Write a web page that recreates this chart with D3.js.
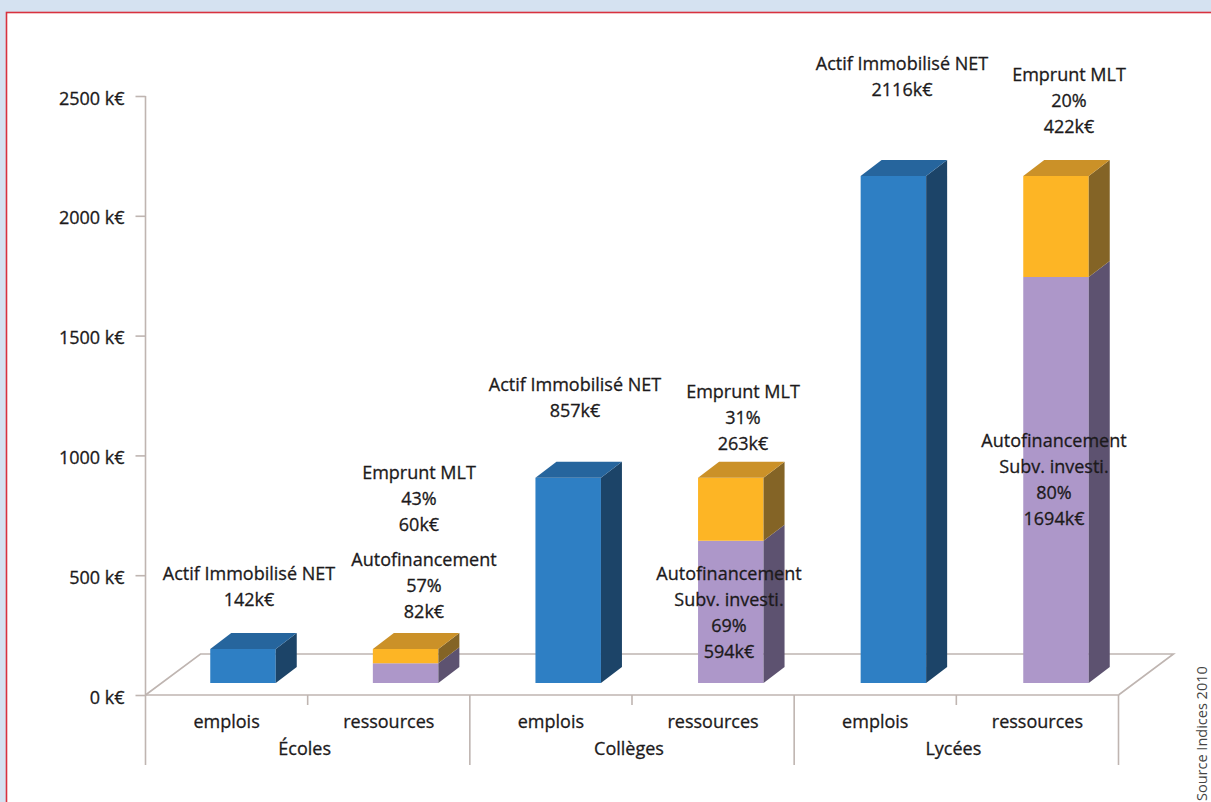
<!DOCTYPE html>
<html lang="fr">
<head>
<meta charset="utf-8">
<style>
  html, body { margin: 0; padding: 0; background: #d5e2f1; overflow: hidden; }
  svg { display: block; }
  text { font-family: "Open Sans", Lato, sans-serif; font-weight: 500; fill: #1c1a1b; stroke: #1c1a1b; stroke-width: 0.3px; }
</style>
</head>
<body>
<svg id="chart" width="1211" height="802"></svg>
<script src="https://cdn.jsdelivr.net/npm/d3@7/dist/d3.min.js"></script>
<script>
// Financing of school buildings: uses and resources per school level (k€)
const levels = ["Écoles", "Collèges", "Lycées"];
const kinds = ["emplois", "ressources"];
const actif = [142, 857, 2116];
const autofinancement = [82, 594, 1694];
const emprunt = [60, 263, 422];
const yTicks = [0, 500, 1000, 1500, 2000, 2500];

const empruntPct = ["43%", "31%", "20%"];
const autofinPct = ["57%", "69%", "80%"];

// Plot frame and oblique projection of the 3D box
const x0 = 145.5, x1 = 1118.5, yZero = 695, yTop = 96;
const floorDx = 55, floorDy = -41;           // depth of the floor
const frontDy = -12;                         // bars stand this far back on the floor
const boxDx = 21, boxDy = -16;               // depth of each bar
const barWidth = 65.5;
const labelSize = 18;

const palette = {
  blue:     { front: "#2e7fc4", top: "#26659d", side: "#1c4468" },
  orange:   { front: "#fdb525", top: "#cb9128", side: "#846426" },
  lavender: { front: "#ad97c9", top: "#8a78a0", side: "#5d5270" }
};
const axisColor = "#bfb5b1";

const svg = d3.select("#chart");
svg.append("rect").attr("x", 6.5).attr("y", 12.5).attr("width", 1300).attr("height", 900)
  .attr("fill", "#fff").attr("stroke", "#d8323f").attr("stroke-width", 1.6);

const y = d3.scaleLinear().domain([0, 2500]).range([yZero, yTop]);
const xLevel = d3.scaleBand().domain(levels).range([x0, x1]);
const xKind = d3.scaleBand().domain(kinds).range([0, xLevel.bandwidth()]);

// The bars sit on a plane further back, so their row is slightly wider than the front axis
const slots = levels.flatMap(l => kinds.map(k => l + "/" + k));
const xSlot = d3.scaleBand().domain(slots).range([161.7, 1137.3]);

const poly = pts => d3.line()(pts) + "Z";

// Floor and axes
const gridG = svg.append("g").attr("fill", "none").attr("stroke", axisColor).attr("stroke-width", 1.6);
gridG.append("path").attr("d", d3.line()([
  [x0, yZero], [x0 + floorDx, yZero + floorDy], [x1 + floorDx, yZero + floorDy], [x1, yZero]
]));

const yAxis = d3.axisLeft(y).tickValues(yTicks).tickFormat(d => d + " k€").tickSize(10).tickPadding(11);
const yG = svg.append("g").attr("transform", `translate(${x0},0)`).call(yAxis);
yG.select(".domain").attr("d", `M0,${yTop}V765`).attr("stroke", axisColor).attr("stroke-width", 1.6);
yG.selectAll(".tick line").attr("stroke", axisColor).attr("stroke-width", 1.6);
yG.selectAll(".tick text").attr("font-size", labelSize).attr("font-family", "'Open Sans'")
  .attr("dy", "0.45em").attr("fill", "#1c1a1b");

gridG.append("line").attr("x1", x0).attr("x2", x1).attr("y1", yZero).attr("y2", yZero);
levels.forEach(l => {
  const left = xLevel(l);
  const mid = left + xKind("ressources");
  gridG.append("line").attr("x1", mid).attr("x2", mid).attr("y1", yZero).attr("y2", yZero + 10);
  gridG.append("line").attr("x1", left + xLevel.bandwidth()).attr("x2", left + xLevel.bandwidth())
    .attr("y1", yZero).attr("y2", 765);
});

// One oblique box from value a to value b
function drawBox(g, left, a, b, colors, withTop) {
  const r = left + barWidth;
  const ya = y(a) + frontDy, yb = y(b) + frontDy;
  g.append("path").attr("fill", colors.front).attr("d", poly([[left, ya], [r, ya], [r, yb], [left, yb]]));
  g.append("path").attr("fill", colors.side).attr("d",
    poly([[r, ya], [r + boxDx, ya + boxDy], [r + boxDx, yb + boxDy], [r, yb]]));
  if (withTop) {
    g.append("path").attr("fill", colors.top).attr("d",
      poly([[left, yb], [r, yb], [r + boxDx, yb + boxDy], [left + boxDx, yb + boxDy]]));
  }
}

const barsG = svg.append("g");
levels.forEach((l, i) => {
  const barLeft = k => xSlot(l + "/" + k) + xSlot.bandwidth() / 2 - barWidth / 2;
  drawBox(barsG, barLeft("emplois"), 0, actif[i], palette.blue, true);
  const ress = barLeft("ressources");
  drawBox(barsG, ress, 0, autofinancement[i], palette.lavender, false);
  drawBox(barsG, ress, autofinancement[i], autofinancement[i] + emprunt[i], palette.orange, true);
});

// Category labels under the axis
const catG = svg.append("g").attr("text-anchor", "middle").attr("font-size", labelSize);
levels.forEach(l => {
  kinds.forEach(k => {
    catG.append("text").attr("x", xLevel(l) + xKind(k) + xKind.bandwidth() / 2)
      .attr("y", 728).text(k);
  });
  catG.append("text").attr("x", xLevel(l) + xLevel.bandwidth() / 2 - 3).attr("y", 755).text(l);
});

// Annotation blocks: centre x and first-line baseline of each block
const notes = [
  { x: 249,  y: 580, lines: ["Actif Immobilisé NET", actif[0] + "k€"] },
  { x: 419,  y: 479, lines: ["Emprunt MLT", empruntPct[0], emprunt[0] + "k€"] },
  { x: 424,  y: 566, lines: ["Autofinancement", autofinPct[0], autofinancement[0] + "k€"] },
  { x: 575,  y: 391, lines: ["Actif Immobilisé NET", actif[1] + "k€"] },
  { x: 743,  y: 398, lines: ["Emprunt MLT", empruntPct[1], emprunt[1] + "k€"] },
  { x: 729,  y: 580, lines: ["Autofinancement", "Subv. investi.", autofinPct[1], autofinancement[1] + "k€"] },
  { x: 902,  y: 70,  lines: ["Actif Immobilisé NET", actif[2] + "k€"] },
  { x: 1069, y: 81,  lines: ["Emprunt MLT", empruntPct[2], emprunt[2] + "k€"] },
  { x: 1054, y: 447, lines: ["Autofinancement", "Subv. investi.", autofinPct[2], autofinancement[2] + "k€"] }
];
const noteG = svg.append("g").attr("text-anchor", "middle").attr("font-size", labelSize);
notes.forEach(n => {
  n.lines.forEach((t, j) => {
    noteG.append("text").attr("x", n.x).attr("y", n.y + j * 26).text(t);
  });
});

// Source credit along the right edge
svg.append("text")
  .attr("transform", "translate(1207,801) rotate(-90)")
  .attr("font-size", 14.5)
  .style("font-weight", 400).style("fill", "#444").style("stroke", "none")
  .text("Source Indices 2010");
</script>
</body>
</html>
